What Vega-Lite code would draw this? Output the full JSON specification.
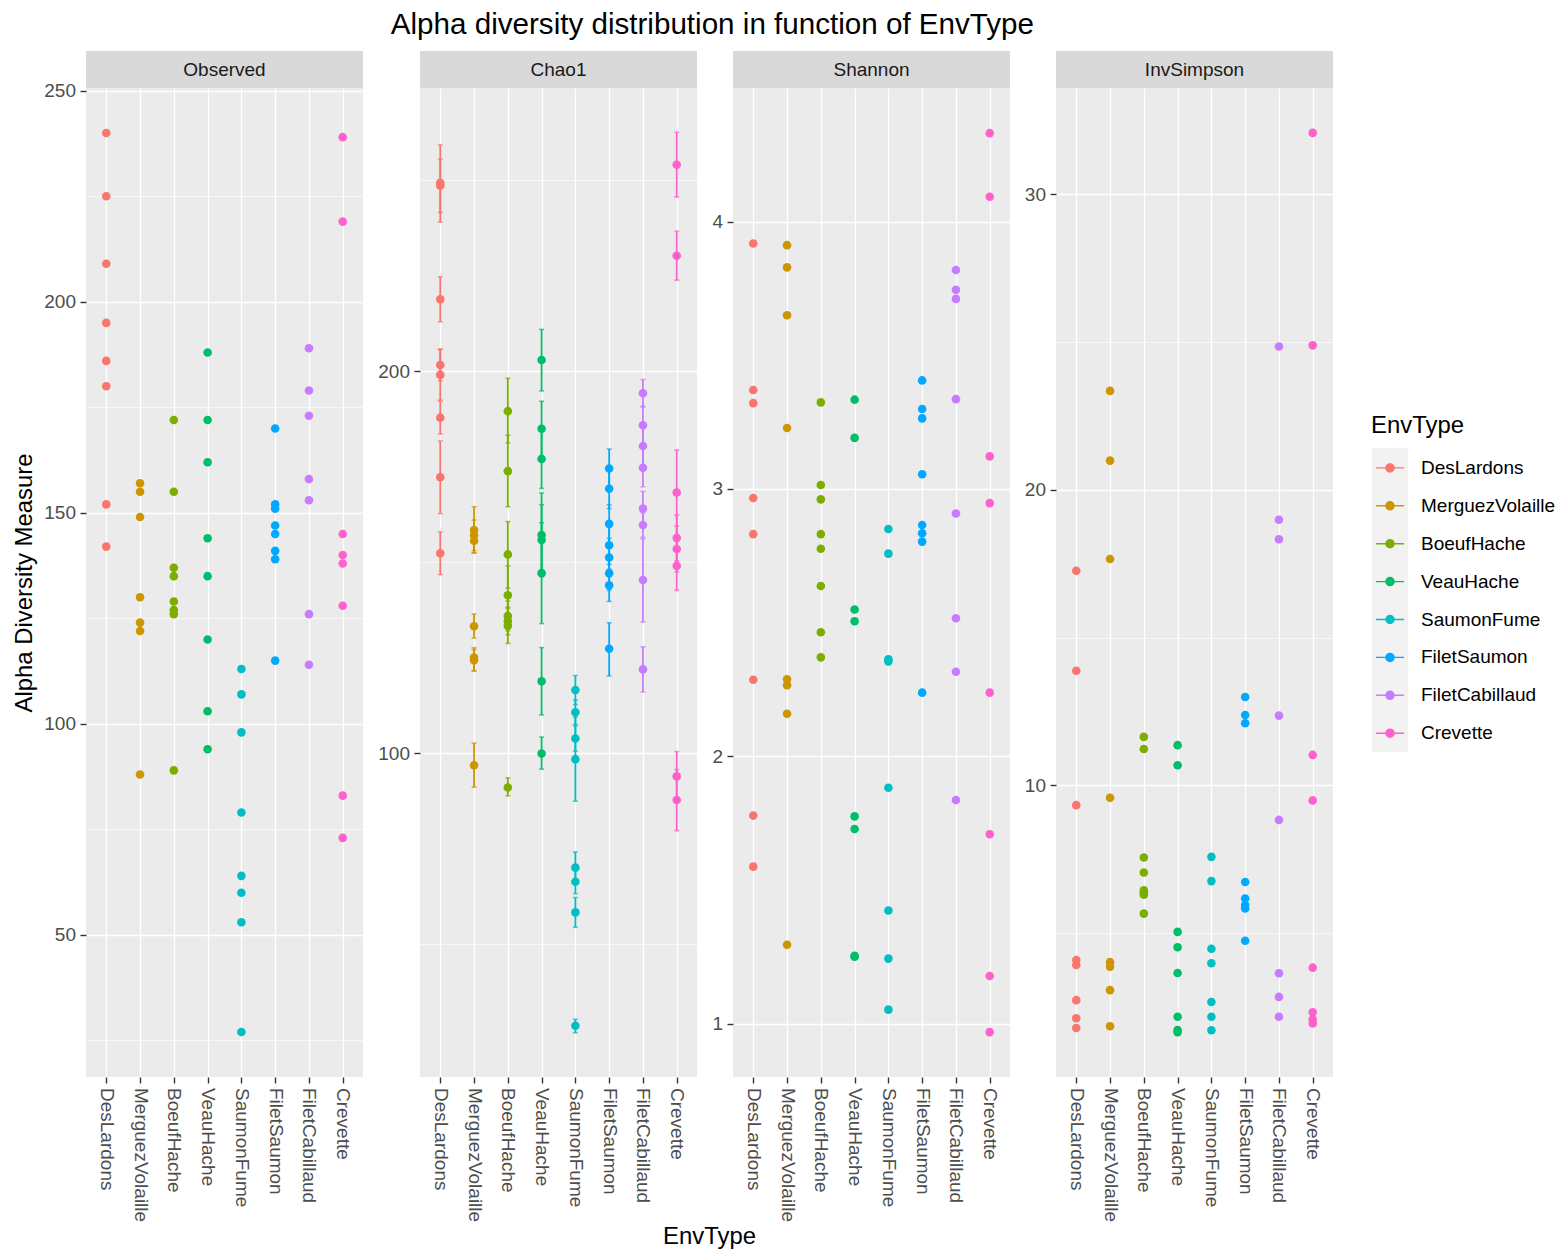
{
  "$schema": "https://vega.github.io/schema/vega-lite/v6.json",
  "background": "#FFFFFF",
  "padding": {"left": 12, "top": 10, "right": 0, "bottom": 0},
  "autosize": {"type": "pad"},
  "title": {"text": "Alpha diversity distribution in function of EnvType", "fontSize": 29.6, "fontWeight": "normal", "color": "#000000", "anchor": "start", "frame": "bounds", "dx": 378, "offset": 10},
  "config": {
    "font": "Liberation Sans",
    "view": {"stroke": null},
    "axis": {"labelFontSize": 19, "labelColor": "#4D4D4D", "tickColor": "#333333", "tickSize": 6, "tickWidth": 1.4, "domain": false, "gridColor": "#FFFFFF", "titleFontSize": 23.9, "titleFontWeight": "normal", "titleColor": "#000000", "labelPadding": 4.5}
  },
  "datasets": {
    "obs": [
      {"EnvType":"DesLardons","value":240},{"EnvType":"DesLardons","value":225},{"EnvType":"DesLardons","value":209},{"EnvType":"DesLardons","value":195},{"EnvType":"DesLardons","value":186},{"EnvType":"DesLardons","value":180},{"EnvType":"DesLardons","value":152},{"EnvType":"DesLardons","value":142},
      {"EnvType":"MerguezVolaille","value":157},{"EnvType":"MerguezVolaille","value":155},{"EnvType":"MerguezVolaille","value":149},{"EnvType":"MerguezVolaille","value":130},{"EnvType":"MerguezVolaille","value":124},{"EnvType":"MerguezVolaille","value":122},{"EnvType":"MerguezVolaille","value":88},
      {"EnvType":"BoeufHache","value":172},{"EnvType":"BoeufHache","value":155},{"EnvType":"BoeufHache","value":137},{"EnvType":"BoeufHache","value":135},{"EnvType":"BoeufHache","value":129},{"EnvType":"BoeufHache","value":127},{"EnvType":"BoeufHache","value":126},{"EnvType":"BoeufHache","value":89},
      {"EnvType":"VeauHache","value":188},{"EnvType":"VeauHache","value":172},{"EnvType":"VeauHache","value":162},{"EnvType":"VeauHache","value":144},{"EnvType":"VeauHache","value":135},{"EnvType":"VeauHache","value":120},{"EnvType":"VeauHache","value":103},{"EnvType":"VeauHache","value":94},
      {"EnvType":"SaumonFume","value":113},{"EnvType":"SaumonFume","value":107},{"EnvType":"SaumonFume","value":98},{"EnvType":"SaumonFume","value":79},{"EnvType":"SaumonFume","value":64},{"EnvType":"SaumonFume","value":60},{"EnvType":"SaumonFume","value":53},{"EnvType":"SaumonFume","value":27},
      {"EnvType":"FiletSaumon","value":170},{"EnvType":"FiletSaumon","value":152},{"EnvType":"FiletSaumon","value":151},{"EnvType":"FiletSaumon","value":147},{"EnvType":"FiletSaumon","value":145},{"EnvType":"FiletSaumon","value":141},{"EnvType":"FiletSaumon","value":139},{"EnvType":"FiletSaumon","value":115},
      {"EnvType":"FiletCabillaud","value":189},{"EnvType":"FiletCabillaud","value":179},{"EnvType":"FiletCabillaud","value":173},{"EnvType":"FiletCabillaud","value":158},{"EnvType":"FiletCabillaud","value":153},{"EnvType":"FiletCabillaud","value":126},{"EnvType":"FiletCabillaud","value":114},
      {"EnvType":"Crevette","value":239},{"EnvType":"Crevette","value":219},{"EnvType":"Crevette","value":145},{"EnvType":"Crevette","value":140},{"EnvType":"Crevette","value":138},{"EnvType":"Crevette","value":128},{"EnvType":"Crevette","value":83},{"EnvType":"Crevette","value":73}
    ],
    "chao": [
      {"EnvType":"DesLardons","value":249.3,"lo":239,"hi":259.2},{"EnvType":"DesLardons","value":248.5,"lo":241.5,"hi":255.5},{"EnvType":"DesLardons","value":218.8,"lo":212.9,"hi":224.7},{"EnvType":"DesLardons","value":201.6,"lo":197.4,"hi":205.8},{"EnvType":"DesLardons","value":199,"lo":192.4,"hi":205.6},{"EnvType":"DesLardons","value":187.8,"lo":183.5,"hi":192.1},{"EnvType":"DesLardons","value":172.2,"lo":162.7,"hi":181.7},{"EnvType":"DesLardons","value":152.3,"lo":146.7,"hi":157.9},
      {"EnvType":"MerguezVolaille","value":158.4,"lo":152.4,"hi":164.5},{"EnvType":"MerguezVolaille","value":157,"lo":153,"hi":161},{"EnvType":"MerguezVolaille","value":155.6,"lo":152.4,"hi":158.8},{"EnvType":"MerguezVolaille","value":133.2,"lo":130.1,"hi":136.4},{"EnvType":"MerguezVolaille","value":125,"lo":121.5,"hi":127.6},{"EnvType":"MerguezVolaille","value":124.3,"lo":121.5,"hi":127.1},{"EnvType":"MerguezVolaille","value":96.8,"lo":91.1,"hi":102.6},
      {"EnvType":"BoeufHache","value":189.5,"lo":181.2,"hi":198.1},{"EnvType":"BoeufHache","value":173.8,"lo":164.5,"hi":183.2},{"EnvType":"BoeufHache","value":152,"lo":143.2,"hi":160.6},{"EnvType":"BoeufHache","value":141.3,"lo":134,"hi":149},{"EnvType":"BoeufHache","value":135.9,"lo":132,"hi":139.8},{"EnvType":"BoeufHache","value":134.6,"lo":131,"hi":138.2},{"EnvType":"BoeufHache","value":133.3,"lo":128.7,"hi":137.9},{"EnvType":"BoeufHache","value":91,"lo":88.8,"hi":93.5},
      {"EnvType":"VeauHache","value":202.9,"lo":194.8,"hi":210.9},{"EnvType":"VeauHache","value":184.9,"lo":177.6,"hi":192.1},{"EnvType":"VeauHache","value":177,"lo":169.3,"hi":184.7},{"EnvType":"VeauHache","value":157.1,"lo":146.2,"hi":168.1},{"EnvType":"VeauHache","value":155.8,"lo":146.6,"hi":165},{"EnvType":"VeauHache","value":147.1,"lo":133.9,"hi":160.3},{"EnvType":"VeauHache","value":118.8,"lo":110,"hi":127.6},{"EnvType":"VeauHache","value":99.9,"lo":95.8,"hi":104.2},
      {"EnvType":"SaumonFume","value":116.5,"lo":112.7,"hi":120.3},{"EnvType":"SaumonFume","value":110.7,"lo":107.5,"hi":113.9},{"EnvType":"SaumonFume","value":103.8,"lo":100.5,"hi":107.1},{"EnvType":"SaumonFume","value":98.4,"lo":87.4,"hi":109.4},{"EnvType":"SaumonFume","value":70,"lo":65.9,"hi":74.1},{"EnvType":"SaumonFume","value":66.3,"lo":63.2,"hi":69.4},{"EnvType":"SaumonFume","value":58.3,"lo":54.4,"hi":62.2},{"EnvType":"SaumonFume","value":28.6,"lo":26.8,"hi":30.3},
      {"EnvType":"FiletSaumon","value":174.5,"lo":169.4,"hi":179.6},{"EnvType":"FiletSaumon","value":169.2,"lo":164,"hi":174.4},{"EnvType":"FiletSaumon","value":160,"lo":155,"hi":165},{"EnvType":"FiletSaumon","value":154.4,"lo":149.4,"hi":159.4},{"EnvType":"FiletSaumon","value":151.2,"lo":146.2,"hi":156.2},{"EnvType":"FiletSaumon","value":147.1,"lo":142.6,"hi":151.6},{"EnvType":"FiletSaumon","value":143.9,"lo":139.7,"hi":148.1},{"EnvType":"FiletSaumon","value":127.3,"lo":120.2,"hi":134.1},
      {"EnvType":"FiletCabillaud","value":194.2,"lo":190.6,"hi":197.8},{"EnvType":"FiletCabillaud","value":185.8,"lo":180.8,"hi":190.8},{"EnvType":"FiletCabillaud","value":180.4,"lo":175.4,"hi":185.4},{"EnvType":"FiletCabillaud","value":174.7,"lo":169.7,"hi":179.7},{"EnvType":"FiletCabillaud","value":164,"lo":159.5,"hi":168.5},{"EnvType":"FiletCabillaud","value":159.7,"lo":156.5,"hi":162.9},{"EnvType":"FiletCabillaud","value":145.3,"lo":134.3,"hi":156.1},{"EnvType":"FiletCabillaud","value":121.9,"lo":116,"hi":127.8},
      {"EnvType":"Crevette","value":254,"lo":245.6,"hi":262.5},{"EnvType":"Crevette","value":230.2,"lo":223.8,"hi":236.6},{"EnvType":"Crevette","value":168.2,"lo":157.2,"hi":179.3},{"EnvType":"Crevette","value":156.3,"lo":150.3,"hi":162.3},{"EnvType":"Crevette","value":153.4,"lo":147.4,"hi":159.4},{"EnvType":"Crevette","value":149,"lo":142.6,"hi":155.4},{"EnvType":"Crevette","value":93.9,"lo":87.4,"hi":100.4},{"EnvType":"Crevette","value":87.7,"lo":79.7,"hi":95.7}
    ],
    "shannon": [
      {"EnvType":"DesLardons","value":3.918},{"EnvType":"DesLardons","value":3.37},{"EnvType":"DesLardons","value":3.321},{"EnvType":"DesLardons","value":2.966},{"EnvType":"DesLardons","value":2.831},{"EnvType":"DesLardons","value":2.286},{"EnvType":"DesLardons","value":1.778},{"EnvType":"DesLardons","value":1.587},
      {"EnvType":"MerguezVolaille","value":3.912},{"EnvType":"MerguezVolaille","value":3.829},{"EnvType":"MerguezVolaille","value":3.65},{"EnvType":"MerguezVolaille","value":3.228},{"EnvType":"MerguezVolaille","value":2.288},{"EnvType":"MerguezVolaille","value":2.266},{"EnvType":"MerguezVolaille","value":2.159},{"EnvType":"MerguezVolaille","value":1.295},
      {"EnvType":"BoeufHache","value":3.324},{"EnvType":"BoeufHache","value":3.015},{"EnvType":"BoeufHache","value":2.961},{"EnvType":"BoeufHache","value":2.831},{"EnvType":"BoeufHache","value":2.776},{"EnvType":"BoeufHache","value":2.637},{"EnvType":"BoeufHache","value":2.464},{"EnvType":"BoeufHache","value":2.37},
      {"EnvType":"VeauHache","value":3.334},{"EnvType":"VeauHache","value":3.191},{"EnvType":"VeauHache","value":2.549},{"EnvType":"VeauHache","value":2.505},{"EnvType":"VeauHache","value":1.775},{"EnvType":"VeauHache","value":1.728},{"EnvType":"VeauHache","value":1.253},{"EnvType":"VeauHache","value":1.25},
      {"EnvType":"SaumonFume","value":2.85},{"EnvType":"SaumonFume","value":2.758},{"EnvType":"SaumonFume","value":2.363},{"EnvType":"SaumonFume","value":2.355},{"EnvType":"SaumonFume","value":1.882},{"EnvType":"SaumonFume","value":1.423},{"EnvType":"SaumonFume","value":1.243},{"EnvType":"SaumonFume","value":1.052},
      {"EnvType":"FiletSaumon","value":3.406},{"EnvType":"FiletSaumon","value":3.299},{"EnvType":"FiletSaumon","value":3.264},{"EnvType":"FiletSaumon","value":3.055},{"EnvType":"FiletSaumon","value":2.865},{"EnvType":"FiletSaumon","value":2.834},{"EnvType":"FiletSaumon","value":2.803},{"EnvType":"FiletSaumon","value":2.238},
      {"EnvType":"FiletCabillaud","value":3.819},{"EnvType":"FiletCabillaud","value":3.745},{"EnvType":"FiletCabillaud","value":3.711},{"EnvType":"FiletCabillaud","value":3.336},{"EnvType":"FiletCabillaud","value":2.908},{"EnvType":"FiletCabillaud","value":2.516},{"EnvType":"FiletCabillaud","value":2.316},{"EnvType":"FiletCabillaud","value":1.836},
      {"EnvType":"Crevette","value":4.331},{"EnvType":"Crevette","value":4.093},{"EnvType":"Crevette","value":3.122},{"EnvType":"Crevette","value":2.947},{"EnvType":"Crevette","value":2.238},{"EnvType":"Crevette","value":1.708},{"EnvType":"Crevette","value":1.178},{"EnvType":"Crevette","value":0.968}
    ],
    "invs": [
      {"EnvType":"DesLardons","value":17.26},{"EnvType":"DesLardons","value":13.88},{"EnvType":"DesLardons","value":9.33},{"EnvType":"DesLardons","value":4.09},{"EnvType":"DesLardons","value":3.92},{"EnvType":"DesLardons","value":2.73},{"EnvType":"DesLardons","value":2.12},{"EnvType":"DesLardons","value":1.79},
      {"EnvType":"MerguezVolaille","value":23.35},{"EnvType":"MerguezVolaille","value":20.99},{"EnvType":"MerguezVolaille","value":17.66},{"EnvType":"MerguezVolaille","value":9.58},{"EnvType":"MerguezVolaille","value":4.02},{"EnvType":"MerguezVolaille","value":3.86},{"EnvType":"MerguezVolaille","value":3.07},{"EnvType":"MerguezVolaille","value":1.85},
      {"EnvType":"BoeufHache","value":11.64},{"EnvType":"BoeufHache","value":11.23},{"EnvType":"BoeufHache","value":7.56},{"EnvType":"BoeufHache","value":7.05},{"EnvType":"BoeufHache","value":6.45},{"EnvType":"BoeufHache","value":6.37},{"EnvType":"BoeufHache","value":6.3},{"EnvType":"BoeufHache","value":5.66},
      {"EnvType":"VeauHache","value":11.36},{"EnvType":"VeauHache","value":10.68},{"EnvType":"VeauHache","value":5.04},{"EnvType":"VeauHache","value":4.52},{"EnvType":"VeauHache","value":3.65},{"EnvType":"VeauHache","value":2.17},{"EnvType":"VeauHache","value":1.72},{"EnvType":"VeauHache","value":1.65},
      {"EnvType":"SaumonFume","value":7.58},{"EnvType":"SaumonFume","value":6.76},{"EnvType":"SaumonFume","value":4.47},{"EnvType":"SaumonFume","value":3.98},{"EnvType":"SaumonFume","value":2.67},{"EnvType":"SaumonFume","value":2.17},{"EnvType":"SaumonFume","value":1.71},
      {"EnvType":"FiletSaumon","value":12.99},{"EnvType":"FiletSaumon","value":12.38},{"EnvType":"FiletSaumon","value":12.1},{"EnvType":"FiletSaumon","value":6.73},{"EnvType":"FiletSaumon","value":6.17},{"EnvType":"FiletSaumon","value":5.95},{"EnvType":"FiletSaumon","value":5.83},{"EnvType":"FiletSaumon","value":4.74},
      {"EnvType":"FiletCabillaud","value":24.85},{"EnvType":"FiletCabillaud","value":18.99},{"EnvType":"FiletCabillaud","value":18.33},{"EnvType":"FiletCabillaud","value":12.36},{"EnvType":"FiletCabillaud","value":8.83},{"EnvType":"FiletCabillaud","value":3.64},{"EnvType":"FiletCabillaud","value":2.84},{"EnvType":"FiletCabillaud","value":2.17},
      {"EnvType":"Crevette","value":32.08},{"EnvType":"Crevette","value":24.89},{"EnvType":"Crevette","value":11.03},{"EnvType":"Crevette","value":9.49},{"EnvType":"Crevette","value":3.83},{"EnvType":"Crevette","value":2.32},{"EnvType":"Crevette","value":2.08},{"EnvType":"Crevette","value":1.94}
    ]
  },
  "spacing": 2,
  "resolve": {"scale": {"x": "independent", "y": "independent", "color": "shared"}},
  "vconcat": [
    {
      "columns": 4,
      "spacing": {"row": -7, "column": 14},
      "align": "each",
      "resolve": {"scale": {"x": "independent", "y": "independent", "color": "shared"}},
      "concat": [
        {"width": 277, "height": 37, "view": {"fill": "#D9D9D9", "stroke": null}, "data": {"values": [{"panel": "Observed"}]}, "mark": {"type": "text", "fontSize": 19, "color": "#1A1A1A"}, "encoding": {"text": {"field": "panel"}}},
        {"width": 277, "height": 37, "view": {"fill": "#D9D9D9", "stroke": null}, "data": {"values": [{"panel": "Chao1"}]}, "mark": {"type": "text", "fontSize": 19, "color": "#1A1A1A"}, "encoding": {"text": {"field": "panel"}}},
        {"width": 277, "height": 37, "view": {"fill": "#D9D9D9", "stroke": null}, "data": {"values": [{"panel": "Shannon"}]}, "mark": {"type": "text", "fontSize": 19, "color": "#1A1A1A"}, "encoding": {"text": {"field": "panel"}}},
        {"width": 277, "height": 37, "view": {"fill": "#D9D9D9", "stroke": null}, "data": {"values": [{"panel": "InvSimpson"}]}, "mark": {"type": "text", "fontSize": 19, "color": "#1A1A1A"}, "encoding": {"text": {"field": "panel"}}},
        {
          "width": 277, "height": 989,
          "view": {"fill": "#EBEBEB", "stroke": null},
          "data": {"name": "obs"},
          "mark": {"type": "circle", "size": 74},
          "encoding": {
            "x": {"field": "EnvType", "type": "nominal", "scale": {"type": "point", "padding": 0.6, "domain": ["DesLardons","MerguezVolaille","BoeufHache","VeauHache","SaumonFume","FiletSaumon","FiletCabillaud","Crevette"]}, "axis": {"title": null, "labelAngle": 90, "grid": true, "gridWidth": 1.3}},
            "y": {"field": "value", "type": "quantitative", "scale": {"domain": [16.35, 250.65], "nice": false, "zero": false},
              "axis": {"title": "Alpha Diversity Measure", "titlePadding": 7, "values": [25,50,75,100,125,150,175,200,225,250], "format": "d", "labelExpr": "datum.value % 50 === 0 ? datum.label : ''", "grid": true, "gridWidth": {"condition": {"test": "datum.value % 50 === 0", "value": 1.3}, "value": 0.65}, "tickOpacity": {"condition": {"test": "datum.value % 50 === 0", "value": 1}, "value": 0}}},
            "opacity": {"field": "EnvType", "type": "nominal", "scale": {"range": [1, 1]},
              "legend": {"title": null, "orient": "none", "legendX": 1285, "legendY": 397, "zindex": 1, "symbolType": "M-0.95,-1H0.95V1H-0.95Z", "symbolSize": 1444, "symbolFillColor": "#F2F2F2", "symbolStrokeColor": "#F2F2F2", "symbolStrokeWidth": 0, "symbolOffset": 0, "rowPadding": 0, "padding": 0, "labelExpr": "''", "labelFontSize": 1, "labelOffset": 0}},
            "color": {"field": "EnvType", "type": "nominal", "scale": {"domain": ["DesLardons","MerguezVolaille","BoeufHache","VeauHache","SaumonFume","FiletSaumon","FiletCabillaud","Crevette"], "range": ["#F8766D","#CD9600","#7CAE00","#00BE67","#00BFC4","#00A9FF","#C77CFF","#FF61CC"]},
              "legend": {"title": "EnvType", "orient": "none", "legendX": 1285, "legendY": 363, "zindex": 2, "symbolType": "M-1,0L1,0M-0.29,0A0.29,0.29 0 1 1 0.29,0A0.29,0.29 0 1 1 -0.29,0Z", "symbolSize": 784, "symbolStrokeWidth": 1.4, "symbolOffset": 4, "labelOffset": 16, "rowPadding": 12.9, "titlePadding": 15, "padding": 0, "titleFontSize": 23.9, "titleFontWeight": "normal", "titleColor": "#000000", "labelFontSize": 19, "labelColor": "#000000", "symbolOpacity": 1,
                "encode": {"symbols": {"update": {"fill": {"scale": "color", "field": "value"}, "stroke": {"scale": "color", "field": "value"}}}}}}
          }
        },
        {
          "width": 277, "height": 989,
          "view": {"fill": "#EBEBEB", "stroke": null},
          "data": {"name": "chao"},
          "encoding": {
            "x": {"field": "EnvType", "type": "nominal", "scale": {"type": "point", "padding": 0.6, "domain": ["DesLardons","MerguezVolaille","BoeufHache","VeauHache","SaumonFume","FiletSaumon","FiletCabillaud","Crevette"]}, "axis": {"title": null, "labelAngle": 90, "grid": true, "gridWidth": 1.3}},
            "color": {"field": "EnvType", "type": "nominal", "scale": {"domain": ["DesLardons","MerguezVolaille","BoeufHache","VeauHache","SaumonFume","FiletSaumon","FiletCabillaud","Crevette"], "range": ["#F8766D","#CD9600","#7CAE00","#00BE67","#00BFC4","#00A9FF","#C77CFF","#FF61CC"]}}
          },
          "layer": [
            {"mark": {"type": "rule", "strokeWidth": 1.8},
             "encoding": {
               "y": {"field": "lo", "type": "quantitative", "scale": {"domain": [15.2, 274.1], "nice": false, "zero": false},
                 "axis": {"title": null, "values": [50,100,150,200,250], "format": "d", "labelExpr": "datum.value % 100 === 0 ? datum.label : ''", "grid": true, "gridWidth": {"condition": {"test": "datum.value % 100 === 0", "value": 1.3}, "value": 0.65}, "tickOpacity": {"condition": {"test": "datum.value % 100 === 0", "value": 1}, "value": 0}}},
               "y2": {"field": "hi"}}},
            {"mark": {"type": "tick", "size": 5, "thickness": 1.6},
             "encoding": {"y": {"field": "lo", "type": "quantitative", "scale": {"domain": [15.2, 274.1], "nice": false, "zero": false},
                 "axis": {"title": null, "values": [50,100,150,200,250], "format": "d", "labelExpr": "datum.value % 100 === 0 ? datum.label : ''", "grid": true, "gridWidth": {"condition": {"test": "datum.value % 100 === 0", "value": 1.3}, "value": 0.65}, "tickOpacity": {"condition": {"test": "datum.value % 100 === 0", "value": 1}, "value": 0}}}}},
            {"mark": {"type": "tick", "size": 5, "thickness": 1.6},
             "encoding": {"y": {"field": "hi", "type": "quantitative", "scale": {"domain": [15.2, 274.1], "nice": false, "zero": false},
                 "axis": {"title": null, "values": [50,100,150,200,250], "format": "d", "labelExpr": "datum.value % 100 === 0 ? datum.label : ''", "grid": true, "gridWidth": {"condition": {"test": "datum.value % 100 === 0", "value": 1.3}, "value": 0.65}, "tickOpacity": {"condition": {"test": "datum.value % 100 === 0", "value": 1}, "value": 0}}}}},
            {"mark": {"type": "circle", "size": 74, "opacity": 1},
             "encoding": {"y": {"field": "value", "type": "quantitative", "scale": {"domain": [15.2, 274.1], "nice": false, "zero": false},
                 "axis": {"title": null, "values": [50,100,150,200,250], "format": "d", "labelExpr": "datum.value % 100 === 0 ? datum.label : ''", "grid": true, "gridWidth": {"condition": {"test": "datum.value % 100 === 0", "value": 1.3}, "value": 0.65}, "tickOpacity": {"condition": {"test": "datum.value % 100 === 0", "value": 1}, "value": 0}}}}}
          ]
        },
        {
          "width": 277, "height": 989,
          "view": {"fill": "#EBEBEB", "stroke": null},
          "data": {"name": "shannon"},
          "mark": {"type": "circle", "size": 74, "opacity": 1},
          "encoding": {
            "x": {"field": "EnvType", "type": "nominal", "scale": {"type": "point", "padding": 0.6, "domain": ["DesLardons","MerguezVolaille","BoeufHache","VeauHache","SaumonFume","FiletSaumon","FiletCabillaud","Crevette"]}, "axis": {"title": null, "labelAngle": 90, "grid": true, "gridWidth": 1.3}},
            "y": {"field": "value", "type": "quantitative", "scale": {"domain": [0.8, 4.5], "nice": false, "zero": false},
              "axis": {"title": null, "values": [1,1.5,2,2.5,3,3.5,4], "format": "d", "labelExpr": "datum.value % 1 === 0 ? datum.label : ''", "grid": true, "gridWidth": {"condition": {"test": "datum.value % 1 === 0", "value": 1.3}, "value": 0.65}, "tickOpacity": {"condition": {"test": "datum.value % 1 === 0", "value": 1}, "value": 0}}},
            "color": {"field": "EnvType", "type": "nominal", "scale": {"domain": ["DesLardons","MerguezVolaille","BoeufHache","VeauHache","SaumonFume","FiletSaumon","FiletCabillaud","Crevette"], "range": ["#F8766D","#CD9600","#7CAE00","#00BE67","#00BFC4","#00A9FF","#C77CFF","#FF61CC"]}}
          }
        },
        {
          "width": 277, "height": 989,
          "view": {"fill": "#EBEBEB", "stroke": null},
          "data": {"name": "invs"},
          "mark": {"type": "circle", "size": 74, "opacity": 1},
          "encoding": {
            "x": {"field": "EnvType", "type": "nominal", "scale": {"type": "point", "padding": 0.6, "domain": ["DesLardons","MerguezVolaille","BoeufHache","VeauHache","SaumonFume","FiletSaumon","FiletCabillaud","Crevette"]}, "axis": {"title": null, "labelAngle": 90, "grid": true, "gridWidth": 1.3}},
            "y": {"field": "value", "type": "quantitative", "scale": {"domain": [0.13, 33.6], "nice": false, "zero": false},
              "axis": {"title": null, "values": [5,10,15,20,25,30], "format": "d", "labelExpr": "datum.value % 10 === 0 ? datum.label : ''", "grid": true, "gridWidth": {"condition": {"test": "datum.value % 10 === 0", "value": 1.3}, "value": 0.65}, "tickOpacity": {"condition": {"test": "datum.value % 10 === 0", "value": 1}, "value": 0}}},
            "color": {"field": "EnvType", "type": "nominal", "scale": {"domain": ["DesLardons","MerguezVolaille","BoeufHache","VeauHache","SaumonFume","FiletSaumon","FiletCabillaud","Crevette"], "range": ["#F8766D","#CD9600","#7CAE00","#00BE67","#00BFC4","#00A9FF","#C77CFF","#FF61CC"]}}
          }
        }
      ]
    },
    {"width": 1247, "height": 26, "data": {"values": [{"label": "EnvType"}]}, "mark": {"type": "text", "fontSize": 23.9, "color": "#000000"}, "encoding": {"text": {"field": "label"}}}
  ]
}
